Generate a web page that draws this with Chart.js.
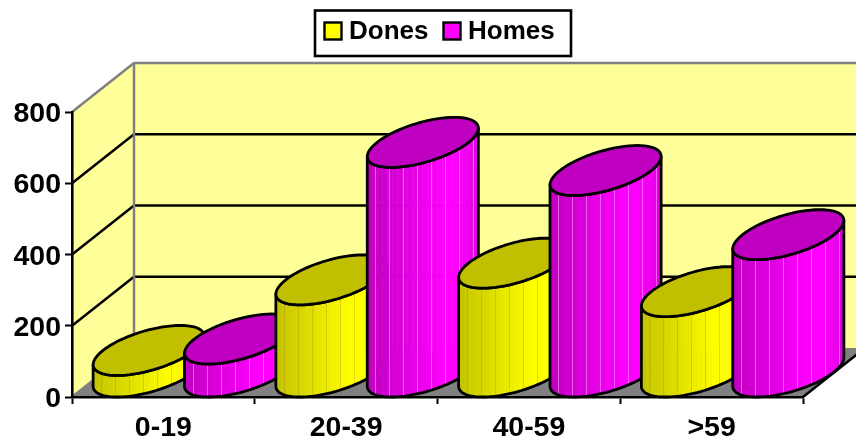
<!DOCTYPE html>
<html>
<head>
<meta charset="utf-8">
<title>Dones i homes per edat</title>
<script src="https://cdn.jsdelivr.net/npm/chart.js@4/dist/chart.umd.min.js"></script>
<style>
    html, body { margin: 0; padding: 0; background: #fff; }
    canvas { display: block; }
</style>
</head>
<body>
<canvas id="edatChart" width="856" height="444"></canvas>
<script>
// Dades per franja d'edat
const franges = ['0-19', '20-39', '40-59', '>59'];
const dones = [62, 260, 307, 227];
const homes = [94, 646, 567, 387];
const yTicks = [0, 200, 400, 600, 800];

const FAMILY = '"Liberation Sans", Arial, sans-serif';
const DEPTH_X = 62;
const DEPTH_Y = 49;
const WALL = '#FFFF99';
const GREY = '#808080';

// colors de cada serie: cara lateral (fosc, clar) i tapa
const estils = [
    { dark: [196, 196, 0], light: [255, 255, 0], top: '#C0C000', seam: 'rgba(170,110,40,0.28)' },
    { dark: [192, 0, 192], light: [255, 0, 255], top: '#C000C0', seam: 'rgba(255,170,255,0.55)' }
];

// Parets i terra en perspectiva, per sota dels eixos
const parets = {
    id: 'parets',
    beforeDraw(chart) {
        const { ctx, chartArea: a, scales } = chart;
        const dx = DEPTH_X, dy = DEPTH_Y;
        ctx.save();
        ctx.lineJoin = 'round';

        ctx.fillStyle = WALL;
        ctx.beginPath();
        ctx.moveTo(a.left, a.top);
        ctx.lineTo(a.left + dx, a.top - dy);
        ctx.lineTo(a.right + dx, a.top - dy);
        ctx.lineTo(a.right + dx, a.bottom - dy);
        ctx.lineTo(a.left + dx, a.bottom - dy);
        ctx.lineTo(a.left, a.bottom);
        ctx.closePath();
        ctx.fill();

        // terra
        ctx.fillStyle = GREY;
        ctx.beginPath();
        ctx.moveTo(a.left, a.bottom);
        ctx.lineTo(a.right, a.bottom);
        ctx.lineTo(a.right + dx, a.bottom - dy);
        ctx.lineTo(a.left + dx, a.bottom - dy);
        ctx.closePath();
        ctx.fill();

        // linies de la graella
        yTicks.slice(1, -1).forEach(v => {
            const y = scales.y.getPixelForValue(v);
            ctx.strokeStyle = '#000';
            ctx.lineWidth = 2.5;
            ctx.beginPath();
            ctx.moveTo(a.left, y);
            ctx.lineTo(a.left + dx, y - dy);
            ctx.lineTo(a.right + dx, y - dy);
            ctx.stroke();
        });

        // vora grisa de les parets
        ctx.strokeStyle = GREY;
        ctx.lineWidth = 2.5;
        ctx.beginPath();
        ctx.moveTo(a.left, a.top);
        ctx.lineTo(a.left + dx, a.top - dy);
        ctx.lineTo(a.right + dx, a.top - dy);
        ctx.moveTo(a.left + dx, a.top - dy);
        ctx.lineTo(a.left + dx, a.bottom - dy);
        ctx.lineTo(a.left, a.bottom);
        ctx.stroke();

        // aresta frontal dreta del terra
        ctx.strokeStyle = '#000';
        ctx.beginPath();
        ctx.moveTo(a.right, a.bottom);
        ctx.lineTo(a.right + dx, a.bottom - dy);
        ctx.stroke();
        ctx.restore();
    }
};

// color de la cara lateral segons la posicio horitzontal (0..1)
function shade(estil, u) {
    let k;
    if (u < 0.68) k = u / 0.68;
    else if (u < 0.8) k = 1;
    else k = 1 - (u - 0.8) / 0.2 * 0.55;
    const c = estil.dark.map((d, i) => Math.round(d + (estil.light[i] - d) * k));
    return `rgb(${c[0]},${c[1]},${c[2]})`;
}

function drawCylinder(ctx, bar, estil) {
    const rx = bar.width / 2;
    const sx = DEPTH_X / 2 * 1.02;
    const sy = DEPTH_Y / 2 * 1.02;
    const cx = bar.x + DEPTH_X / 2;
    const topY = bar.y - DEPTH_Y / 2;
    const baseY = bar.base - DEPTH_Y / 2;
    const pt = (t, cy) => [cx + rx * Math.cos(t) + sx * Math.sin(t), cy - sy * Math.sin(t)];
    const t0 = Math.atan2(sx, rx);
    const halfW = Math.hypot(rx, sx);

    const ellipse = cy => {
        ctx.beginPath();
        for (let i = 0; i <= 72; i++) {
            const p = pt(i / 72 * Math.PI * 2, cy);
            i ? ctx.lineTo(p[0], p[1]) : ctx.moveTo(p[0], p[1]);
        }
        ctx.closePath();
    };
    const side = () => {
        ctx.beginPath();
        // de l'extrem dret de la tapa fins a la base, i volta per sota
        let p = pt(t0, topY);
        ctx.moveTo(p[0], p[1]);
        for (let i = 0; i <= 48; i++) {
            p = pt(t0 - i / 48 * Math.PI, baseY);
            ctx.lineTo(p[0], p[1]);
        }
        p = pt(t0 - Math.PI, topY);
        ctx.lineTo(p[0], p[1]);
        for (let i = 0; i <= 48; i++) {
            p = pt(t0 - Math.PI + i / 48 * Math.PI, topY);
            ctx.lineTo(p[0], p[1]);
        }
        ctx.closePath();
    };

    ctx.save();
    ctx.save();
    side();
    ctx.clip();
    const left = cx - halfW;
    const width = halfW * 2;
    const strip = 5;
    const yA = topY - 40, yB = baseY + 40;
    for (let x = 0; x < width; x += strip) {
        ctx.fillStyle = shade(estil, (x + strip / 2) / width);
        ctx.fillRect(left + x, yA, strip + 0.5, yB - yA);
    }
    // franges verticals fines
    ctx.strokeStyle = estil.seam;
    ctx.lineWidth = 1;
    for (let x = 8; x < width; x += 14) {
        ctx.beginPath();
        ctx.moveTo(Math.round(left + x) + 0.5, yA);
        ctx.lineTo(Math.round(left + x) + 0.5, yB);
        ctx.stroke();
    }
    ctx.restore();

    ctx.strokeStyle = '#000';
    ctx.lineWidth = 2.8;
    ctx.lineJoin = 'round';
    side();
    ctx.stroke();

    ellipse(topY);
    ctx.fillStyle = estil.top;
    ctx.fill();
    ctx.stroke();
    ctx.restore();
}

// Cilindres, d'esquerra a dreta perque cadascun tapi l'anterior
const cilindres = {
    id: 'cilindres',
    afterDatasetsDraw(chart) {
        const { ctx } = chart;
        franges.forEach((f, i) => {
            chart.data.datasets.forEach((ds, d) => {
                drawCylinder(ctx, chart.getDatasetMeta(d).data[i], estils[d]);
            });
        });
    }
};

// Etiquetes de l'eix Y, centrades sobre la marca
const etiquetesY = {
    id: 'etiquetesY',
    afterDraw(chart) {
        const { ctx, scales } = chart;
        ctx.save();
        ctx.fillStyle = '#000';
        ctx.font = `bold 28.5px ${FAMILY}`;
        ctx.textAlign = 'right';
        ctx.textBaseline = 'alphabetic';
        yTicks.forEach(v => {
            ctx.fillText(String(v), 61, scales.y.getPixelForValue(v) + 10);
        });
        ctx.restore();
    }
};

// Llegenda amb requadre a dalt
const llegenda = {
    id: 'llegenda',
    afterDraw(chart) {
        const { ctx } = chart;
        ctx.save();
        ctx.fillStyle = '#fff';
        ctx.strokeStyle = '#000';
        ctx.lineWidth = 2.6;
        ctx.fillRect(315, 10.5, 256, 45.5);
        ctx.strokeRect(315, 10.5, 256, 45.5);
        ctx.font = `bold 26px ${FAMILY}`;
        ctx.textBaseline = 'middle';
        const items = [[324.5, 349], [443.5, 468]];
        chart.data.datasets.forEach((ds, d) => {
            ctx.fillStyle = ds.color;
            ctx.lineWidth = 2.4;
            ctx.fillRect(items[d][0], 22.5, 17, 17);
            ctx.strokeRect(items[d][0], 22.5, 17, 17);
            ctx.fillStyle = '#000';
            ctx.fillText(ds.label, items[d][1], 32);
        });
        ctx.restore();
    }
};

new Chart(document.getElementById('edatChart'), {
    type: 'bar',
    data: {
        labels: franges,
        datasets: [
            { label: 'Dones', data: dones, color: '#FFFF00', backgroundColor: 'transparent' },
            { label: 'Homes', data: homes, color: '#FF00FF', backgroundColor: 'transparent' }
        ]
    },
    options: {
        responsive: false,
        animation: false,
        layout: { padding: { left: 0, top: 112, right: 53, bottom: 0 } },
        datasets: { bar: { categoryPercentage: 1, barPercentage: 1 } },
        plugins: { legend: { display: false }, tooltip: { enabled: false }, title: { display: false } },
        scales: {
            x: {
                afterFit(scale) {
                    scale.height = 47;
                    scale.paddingLeft = scale.paddingRight = 0;
                },
                border: { color: '#000', width: 2.6 },
                grid: { drawOnChartArea: false, color: '#000', tickLength: 7, tickWidth: 2 },
                ticks: { color: '#000', font: { family: FAMILY, size: 28.5, weight: 'bold' }, padding: 7, maxRotation: 0 }
            },
            y: {
                min: 0,
                max: 800,
                afterBuildTicks(scale) {
                    scale.ticks = yTicks.map(v => ({ value: v }));
                },
                afterFit(scale) {
                    scale.width = 72;
                    scale.paddingTop = scale.paddingBottom = 0;
                },
                border: { color: '#000', width: 2.6 },
                grid: { drawOnChartArea: false, color: '#000', tickLength: 7, tickWidth: 2 },
                ticks: { display: false }
            }
        }
    },
    plugins: [parets, cilindres, etiquetesY, llegenda]
});
</script>
</body>
</html>
